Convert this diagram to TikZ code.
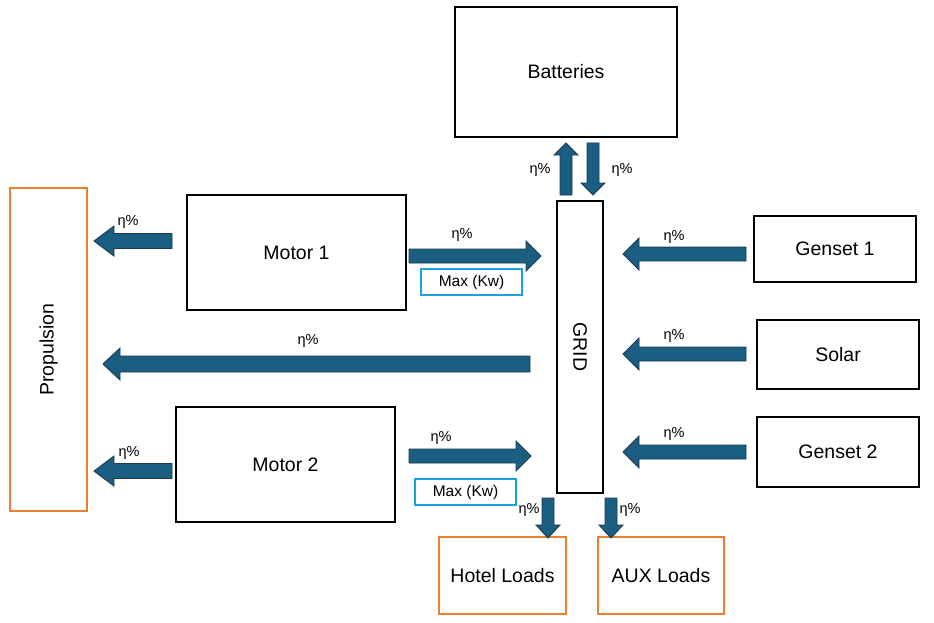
\documentclass[tikz,border=0pt]{standalone}
\usepackage{fontspec}
\setmainfont{Liberation Sans}
\definecolor{arrfill}{HTML}{1A5E82}
\definecolor{arrline}{HTML}{1F3A4F}
\definecolor{orangeline}{HTML}{ED7D31}
\definecolor{blueline}{HTML}{1BA1E2}
\tikzset{
  box/.style={draw=black, line width=1.5pt, fill=white, inner sep=0pt, font=\fontsize{19.5}{21}\selectfont},
  obox/.style={draw=orangeline, line width=1.3pt, fill=white, inner sep=0pt, font=\fontsize{19.5}{21}\selectfont},
  maxbox/.style={draw=blueline, line width=1.3pt, fill=white, inner sep=0pt, font=\fontsize{15.5}{17}\selectfont},
  eta/.style={font=\fontsize{14.5}{16}\selectfont, inner sep=0pt},
  pics/barrow/.style n args={4}{code={
    % #1 length, #2 head length, #3 shaft half width, #4 head half width
    \filldraw[fill=arrfill, draw=arrline, line width=0.9pt, line join=miter]
      (0,-#3) -- ({#1-#2},-#3) -- ({#1-#2},-#4) -- (#1,0) -- ({#1-#2},#4)
      -- ({#1-#2},#3) -- (0,#3) -- cycle;
  }}
}
\begin{document}
\begin{tikzpicture}[x=1pt, y=-1pt]
\useasboundingbox (0,0) rectangle (934,623);
\fill[white] (0,0) rectangle (934,623);

% boxes
\node[box, minimum width=222pt, minimum height=130pt] (bat) at (566,72) {Batteries};
\node[box, minimum width=46pt, minimum height=292pt] (grid) at (580,347) {\rotatebox{-90}{GRID}};
\node[obox, minimum width=77pt, minimum height=323pt] (prop) at (48.5,349.5) {\rotatebox{90}{Propulsion}};
\node[box, minimum width=219pt, minimum height=115pt] (m1) at (296.5,252.5) {Motor 1};
\node[box, minimum width=219pt, minimum height=115pt] (m2) at (285.5,464.5) {Motor 2};
\node[box, minimum width=162pt, minimum height=66pt] (g1) at (835,249) {Genset 1};
\node[box, minimum width=162pt, minimum height=69pt] (sol) at (838,354.5) {Solar};
\node[box, minimum width=162pt, minimum height=70pt] (g2) at (838,452) {Genset 2};
\node[obox, minimum width=127pt, minimum height=77pt] (hotel) at (502.5,575.5) {Hotel Loads};
\node[obox, minimum width=126pt, minimum height=77pt] (aux) at (661,575.5) {AUX Loads};
\node[maxbox, minimum width=101pt, minimum height=26pt] (max1) at (471.5,282) {Max (Kw)};
\node[maxbox, minimum width=101pt, minimum height=26pt] (max2) at (465.5,492) {Max (Kw)};

% horizontal block arrows
\pic[rotate=180] at (172,241) {barrow={78}{20}{7.5}{15}};
\pic at (409,256) {barrow={132}{15}{7}{15}};
\pic[rotate=180] at (530,364) {barrow={427}{17}{8}{16}};
\pic[rotate=180] at (172,471) {barrow={78}{20}{7.5}{15}};
\pic at (409,456) {barrow={122}{15}{7}{15}};
\pic[rotate=180] at (746,254) {barrow={123}{16}{7}{16}};
\pic[rotate=180] at (746,354) {barrow={123}{16}{7}{16}};
\pic[rotate=180] at (746,452) {barrow={123}{16}{7}{16}};

% vertical block arrows
\pic[rotate=90] at (566,195) {barrow={52}{12}{6}{12}};
\pic[rotate=-90] at (593,143) {barrow={52}{12}{6}{12}};
\pic[rotate=-90] at (548,498) {barrow={40}{13}{6}{12}};
\pic[rotate=-90] at (611,498) {barrow={40}{13}{6}{12}};

% labels
\node[eta] (e1) at (128,222) {η\%};
\node[eta] (e2) at (462,235) {η\%};
\node[eta] (e3) at (308,341) {η\%};
\node[eta] (e4) at (129,453) {η\%};
\node[eta] (e5) at (441,438) {η\%};
\node[eta] (e6) at (674,237) {η\%};
\node[eta] (e7) at (674,336) {η\%};
\node[eta] (e8) at (674,434) {η\%};
\node[eta] (e9) at (540,170) {η\%};
\node[eta] (e10) at (622,170) {η\%};
\node[eta] (e11) at (529,510) {η\%};
\node[eta] (e12) at (630,510) {η\%};
\end{tikzpicture}
\end{document}
